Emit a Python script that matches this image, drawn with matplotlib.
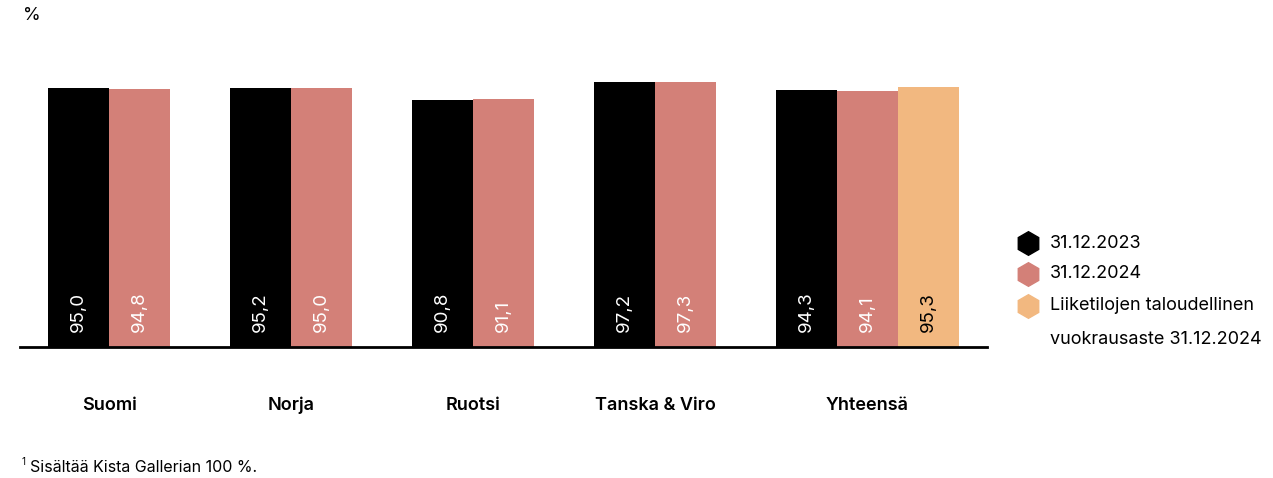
import matplotlib
matplotlib.use("Agg")
import matplotlib.pyplot as plt
from matplotlib.lines import Line2D
import numpy as np

plt.rcParams['font.family'] = ['Inter', 'DejaVu Sans']

categories = ["Suomi", "Norja", "Ruotsi", "Tanska & Viro", "Yhteensä"]
values_2023 = [95.0, 95.2, 90.8, 97.2, 94.3]
values_2024 = [94.8, 95.0, 91.1, 97.3, 94.1]
commercial_2024 = [95.3]  # only for the total group
series_labels = ["31.12.2023", "31.12.2024",
                 "Liiketilojen taloudellinen\nvuokrausaste 31.12.2024"]
colors = ["#000000", "#D38078", "#F2B880"]
text_colors = ["white", "white", "black"]

W, H = 1273, 478
fig = plt.figure(figsize=(W / 100, H / 100), dpi=100)

# axes placed in pixel terms: baseline at y=347, x from 20 to 987
ymax = 110
px_per_unit = 2.725
ax_h = ymax * px_per_unit
ax = fig.add_axes([20 / W, (H - 347) / H, 967 / W, ax_h / H])

group_step = 182.0
w = 61.0 / group_step
x = np.arange(len(categories))

def fmt(v):
    return f"{v:.1f}".replace(".", ",")

def draw_series(xpos, vals, color, tcolor):
    bars = ax.bar(xpos, vals, width=w, color=color, align="center", linewidth=0)
    for rect, v in zip(bars, vals):
        ax.annotate(fmt(v), xy=(rect.get_x() + rect.get_width() / 2, 0),
                    xytext=(0, 10.5), textcoords="offset points",
                    rotation=90, ha="center", va="bottom",
                    fontsize=13.5, color=tcolor)
    return bars

draw_series(x - w / 2, values_2023, colors[0], text_colors[0])
draw_series(x + w / 2, values_2024, colors[1], text_colors[1])
x_total = x[-1:] + 3 * w / 2
draw_series(x_total, commercial_2024, colors[2], text_colors[2])

ax.set_xlim((20 - 109) / group_step, (987 - 109) / group_step)
ax.set_ylim(0, ymax)

# category labels centred under each group of bars
label_pos = [xi for xi in x[:-1]] + [x[-1] + w / 2]
ax.set_xticks(label_pos)
ax.set_xticklabels(categories, fontsize=13, fontweight="semibold")
ax.tick_params(axis="x", length=0, pad=36)
ax.set_yticks([])
for s in ["top", "right", "left"]:
    ax.spines[s].set_visible(False)
ax.spines["bottom"].set_linewidth(2)
ax.spines["bottom"].set_color("black")

# unit label
fig.text(23 / W, 1 - 16 / H, "%", fontsize=13, ha="left", va="center")

# legend with hexagon markers
leg_y = [243, 274, 306]
for yy, c, lab in zip(leg_y, colors, series_labels):
    fig.add_artist(Line2D([1028 / W], [1 - yy / H], marker="h", markersize=17,
                          color=c, linestyle="none", transform=fig.transFigure))
    first, *rest = lab.split("\n")
    fig.text(1050 / W, 1 - yy / H, first, fontsize=13, ha="left", va="center")
    for k, extra in enumerate(rest):
        fig.text(1050 / W, 1 - (yy + 34 * (k + 1)) / H, extra,
                 fontsize=13, ha="left", va="center")

# footnote
fig.text(22 / W, 1 - 462 / H, "1", fontsize=7, ha="left", va="center")
fig.text(30 / W, 1 - 467 / H, "Sisältää Kista Gallerian 100 %.",
         fontsize=11.5, ha="left", va="center")

fig.savefig("out.png", dpi=100)
